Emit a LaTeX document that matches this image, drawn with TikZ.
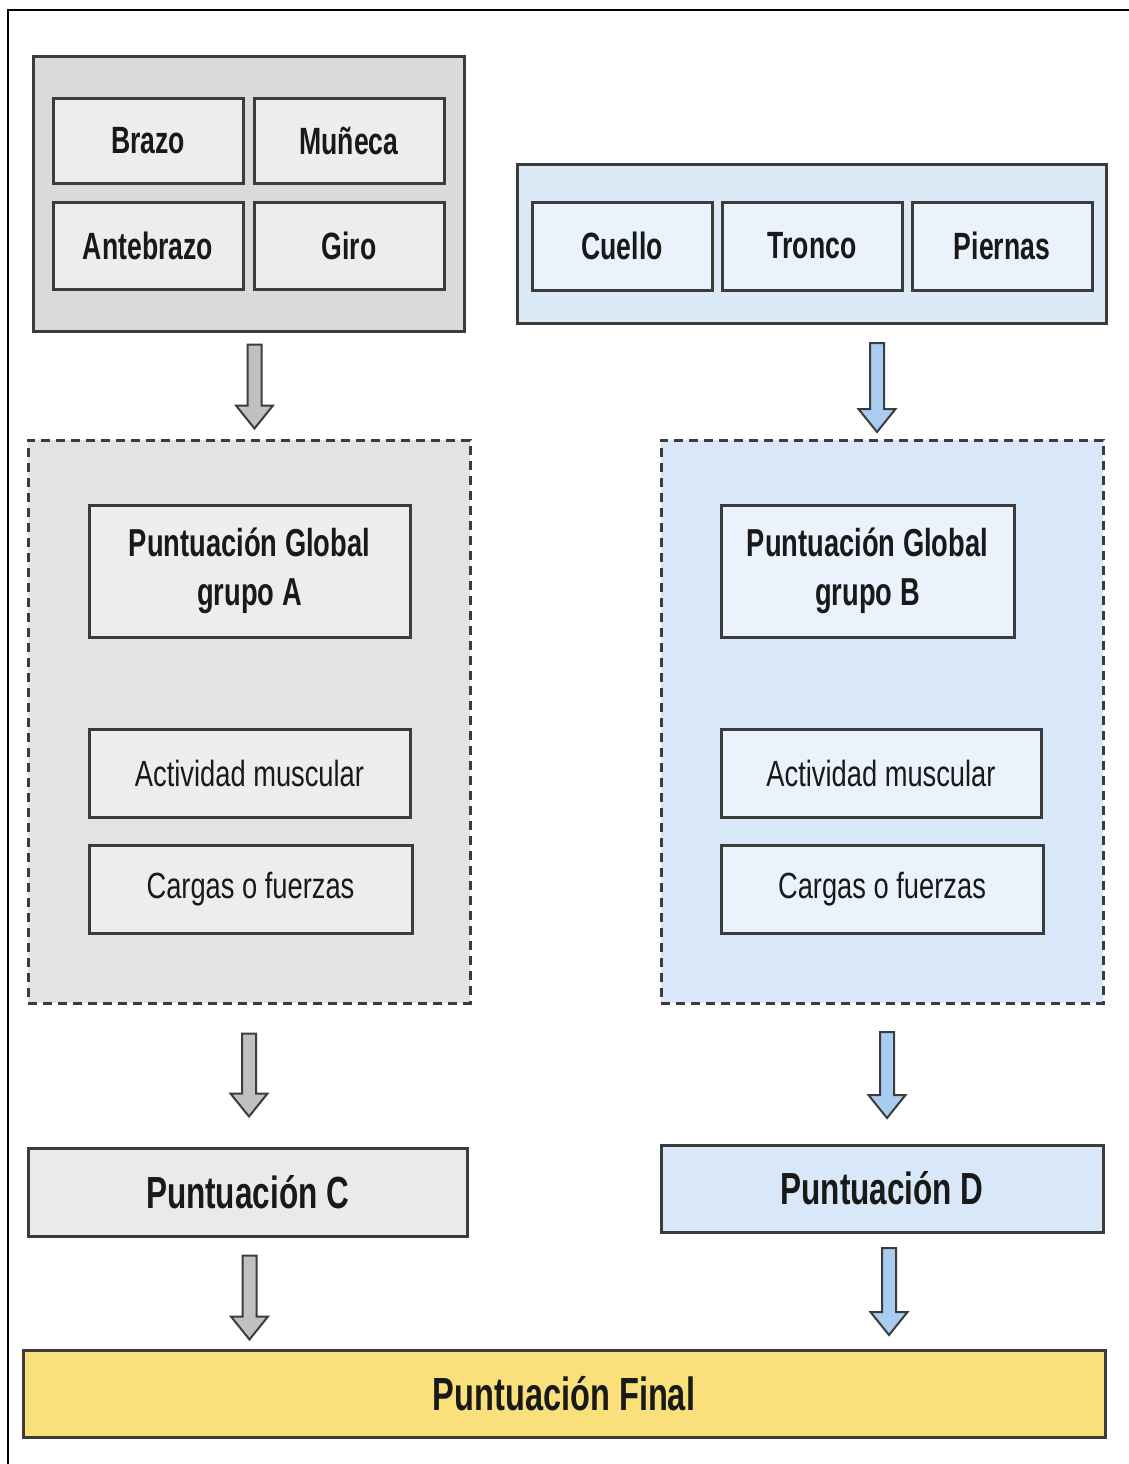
\documentclass[tikz,border=0pt]{standalone}
\usepackage{fontspec}
\usetikzlibrary{calc}
\newfontfamily\headfont[FakeStretch=0.70]{Liberation Sans}
\newfontfamily\bodyfont[FakeStretch=0.75]{Liberation Sans}
\definecolor{edge}{HTML}{3C3C3C}
\definecolor{grayouter}{HTML}{DADADA}
\definecolor{grayinner}{HTML}{EDEDED}
\definecolor{graydash}{HTML}{E3E3E3}
\definecolor{grayarrow}{HTML}{C0C0C0}
\definecolor{blueouter}{HTML}{DCEAF7}
\definecolor{blueinner}{HTML}{EAF3FC}
\definecolor{bluedash}{HTML}{D8E8F8}
\definecolor{bluearrow}{HTML}{A9CDF0}
\definecolor{finalfill}{HTML}{FAE07A}
\tikzset{
  box/.style={draw=edge, line width=3pt, inner sep=0pt, align=center, text=black!90},
  dashbox/.style={draw=edge, line width=3pt, dash pattern=on 9pt off 6pt, inner sep=0pt},
  part/.style={box, font=\headfont\bfseries\fontsize{38}{46}\selectfont},
  global/.style={box, font=\headfont\bfseries\fontsize{39}{49}\selectfont},
  factor/.style={box, font=\bodyfont\fontsize{36.4}{44}\selectfont},
  score/.style={box, font=\headfont\bfseries\fontsize{45}{54}\selectfont},
  arrowline/.style={draw=edge, line width=2pt, line join=miter}
}
% block arrow from a start coordinate down to a tip coordinate (same x)
\newcommand\blockarrow[3]{%
  \draw[arrowline, fill=#3]
    ($(#1)+(-7,0)$) -- ($(#1)+(7,0)$) -- ($(#2)+(7,-23)$) -- ($(#2)+(18.5,-23)$)
    -- (#2) -- ($(#2)+(-18.5,-23)$) -- ($(#2)+(-7,-23)$) -- cycle;}
\begin{document}
\begin{tikzpicture}[x=1pt,y=-1pt]
\useasboundingbox (0,0) rectangle (1129,1464);
\fill[white] (0,0) rectangle (1129,1464);
% frame
\draw[line width=2pt, black] (8,1464) -- (8,10) -- (1129,10);

% group A: body parts
\node[box, fill=grayouter, minimum width=431, minimum height=274] (topA) at (248.5,194) {};
\node[part, fill=grayinner, minimum width=190, minimum height=85] (brazo) at (148,140.5) {Brazo};
\node[part, fill=grayinner, minimum width=190, minimum height=85] (muneca) at (349,140.5) {Muñeca};
\node[part, fill=grayinner, minimum width=190, minimum height=87] (antebrazo) at (148,245.5) {Antebrazo};
\node[part, fill=grayinner, minimum width=190, minimum height=87] (giro) at (349,245.5) {Giro};

% group B: body parts
\node[box, fill=blueouter, minimum width=589, minimum height=159] (topB) at (811.5,243.5) {};
\node[part, fill=blueinner, minimum width=180, minimum height=88] (cuello) at (622,246) {Cuello};
\node[part, fill=blueinner, minimum width=180, minimum height=88] (tronco) at (812,246) {Tronco};
\node[part, fill=blueinner, minimum width=180, minimum height=88] (piernas) at (1002,246) {Piernas};

% dashed containers
\node[dashbox, fill=graydash, minimum width=442, minimum height=563] (dashA) at (249,721.5) {};
\node[dashbox, fill=bluedash, minimum width=442, minimum height=563] (dashB) at (882,721.5) {};

\node[global, fill=grayinner, minimum width=321, minimum height=132] (globA) at (249.5,571) {Puntuación Global\\grupo A};
\node[factor, fill=grayinner, minimum width=321, minimum height=88] (actA) at (249.5,773) {Actividad muscular};
\node[factor, fill=grayinner, minimum width=323, minimum height=88] (carA) at (250.5,889) {Cargas o fuerzas};

\node[global, fill=blueinner, minimum width=293, minimum height=132] (globB) at (867.5,571) {Puntuación Global\\grupo B};
\node[factor, fill=blueinner, minimum width=320, minimum height=88] (actB) at (881,773) {Actividad muscular};
\node[factor, fill=blueinner, minimum width=322, minimum height=88] (carB) at (882,889) {Cargas o fuerzas};

% scores
\node[score, fill=grayinner!85!grayouter, minimum width=439, minimum height=88] (scoreC) at (247.5,1192) {Puntuación C};
\node[score, fill=bluedash, minimum width=442, minimum height=87] (scoreD) at (882,1188.5) {Puntuación D};
\node[score, fill=finalfill, minimum width=1082, minimum height=87, font=\headfont\bfseries\fontsize{46.5}{54}\selectfont] (final) at (564,1393.5) {Puntuación Final};

% arrows
\coordinate (a1s) at ($(topA.south)+(6,12)$);  \coordinate (a1e) at ($(dashA.north)+(5,-10)$);
\coordinate (a2s) at ($(dashA.south)+(0,29)$); \coordinate (a2e) at ($(scoreC.north)+(0.5,-30)$);
\coordinate (a3s) at ($(scoreC.south)+(2,18)$); \coordinate (a3e) at ($(final.north)+(-314,-9)$);
\coordinate (b1s) at (877,343); \coordinate (b1e) at (877,432);
\coordinate (b2s) at (887,1032); \coordinate (b2e) at (887,1118);
\coordinate (b3s) at (889,1248); \coordinate (b3e) at (889,1335);
\coordinate (a1e') at (a1s |- a1e);
\coordinate (a2e') at (a2s |- a2e);
\coordinate (a3e') at (a3s |- a3e);
\blockarrow{a1s}{a1e'}{grayarrow}
\blockarrow{a2s}{a2e'}{grayarrow}
\blockarrow{a3s}{a3e'}{grayarrow}
\blockarrow{b1s}{b1e}{bluearrow}
\blockarrow{b2s}{b2e}{bluearrow}
\blockarrow{b3s}{b3e}{bluearrow}
\end{tikzpicture}
\end{document}
